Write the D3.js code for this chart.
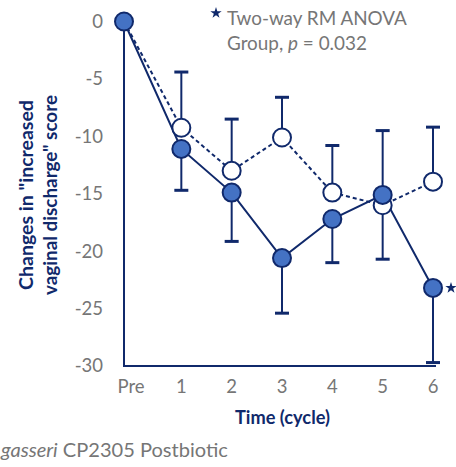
<!DOCTYPE html>
<html><head><meta charset="utf-8">
<script src="https://cdn.jsdelivr.net/npm/d3@7"></script>
<style>body{margin:0;background:#fff;overflow:hidden}svg{display:block}</style>
</head><body>
<svg id="c" width="456" height="467"></svg>
<script>
const categories = ["Pre","1","2","3","4","5","6"];
const filledMean = [0,-11.1,-14.9,-20.6,-17.2,-15.1,-23.2];
const filledSD   = [0,3.6,4.25,4.8,3.8,5.6,6.5];
const openMean   = [0,-9.25,-13.0,-10.1,-14.9,-16.0,-13.95];
const openSD     = [0,4.85,4.5,3.5,4.1,6.5,4.75];
const yTicks = [0,-5,-10,-15,-20,-25,-30];

const navy = "#10296b", blue = "#4472c4", grey = "#767676";
const font = "Lato, 'Open Sans', sans-serif";
const svg = d3.select("#c");
const axisX = 124;
const x = d3.scalePoint().domain(categories).range([131, 433]);
const px = c => c === "Pre" ? axisX : x(c);
const y = d3.scaleLinear().domain([-30, 0]).range([366, 21.5]);

// scale a text element's font so that its length hits a target width
function fit(sel, target) {
  const base = 20;
  sel.attr("font-size", base);
  const w = sel.node().getComputedTextLength();
  sel.attr("font-size", base * target / w);
}

// axes lines
svg.append("line").attr("x1",axisX).attr("x2",axisX).attr("y1",y(0)).attr("y2",y(-30))
  .attr("stroke",navy).attr("stroke-width",2);
svg.append("line").attr("x1",axisX-1).attr("x2",436).attr("y1",y(-30)).attr("y2",y(-30))
  .attr("stroke",navy).attr("stroke-width",2);

// y tick labels
svg.append("g").selectAll("text").data(yTicks).join("text")
  .attr("x",103).attr("y",d=>y(d)).attr("dy","0.35em").attr("text-anchor","end")
  .attr("font-family",font).attr("font-size",18.5).attr("fill",grey).text(d=>d);
// x tick labels
svg.append("g").selectAll("text").data(categories).join("text")
  .attr("x",d=>x(d)).attr("y",393).attr("text-anchor","middle")
  .attr("font-family",font).attr("font-size",18.5).attr("fill",grey).text(d=>d);

// axis titles
const yt1 = svg.append("text").attr("transform","translate(32.5,195) rotate(-90)")
  .attr("text-anchor","middle").attr("font-family",font).attr("font-weight","bold")
  .attr("fill",navy).text('Changes in "increased');
fit(yt1, 190);
const yt2 = svg.append("text").attr("transform","translate(57,195) rotate(-90)")
  .attr("text-anchor","middle").attr("font-family",font).attr("font-weight","bold")
  .attr("fill",navy).text('vaginal discharge" score');
fit(yt2, 200);
const xt = svg.append("text").attr("x",282.5).attr("y",424).attr("text-anchor","middle")
  .attr("font-family",font).attr("font-weight","bold")
  .attr("fill",navy).text("Time (cycle)");
fit(xt, 95);

// error bars
const capW = 14;
const gE = svg.append("g").attr("stroke",navy);
categories.forEach((c,i)=>{
  if (openSD[i] > 0) {
    const yu = y(openMean[i]+openSD[i]);
    gE.append("line").attr("x1",px(c)).attr("x2",px(c)).attr("y1",y(openMean[i])).attr("y2",yu).attr("stroke-width",2);
    gE.append("line").attr("x1",px(c)-capW/2).attr("x2",px(c)+capW/2).attr("y1",yu).attr("y2",yu).attr("stroke-width",3);
  }
  if (filledSD[i] > 0) {
    const yb = y(filledMean[i]-filledSD[i]);
    gE.append("line").attr("x1",px(c)).attr("x2",px(c)).attr("y1",y(filledMean[i])).attr("y2",yb).attr("stroke-width",2);
    gE.append("line").attr("x1",px(c)-capW/2).attr("x2",px(c)+capW/2).attr("y1",yb).attr("y2",yb).attr("stroke-width",3);
  }
});

// lines
const line = d3.line().x(d=>px(d[0])).y(d=>y(d[1]));
svg.append("path").datum(categories.map((c,i)=>[c,openMean[i]])).attr("d",line)
  .attr("fill","none").attr("stroke",navy).attr("stroke-width",2).attr("stroke-dasharray","4,3");
svg.append("path").datum(categories.map((c,i)=>[c,filledMean[i]])).attr("d",line)
  .attr("fill","none").attr("stroke",navy).attr("stroke-width",2);

// points
svg.append("g").selectAll("circle").data(categories.map((c,i)=>[c,openMean[i]]).slice(1)).join("circle")
  .attr("cx",d=>px(d[0])).attr("cy",d=>y(d[1])).attr("r",9)
  .attr("fill","#fff").attr("stroke",navy).attr("stroke-width",2);
svg.append("g").selectAll("circle").data(categories.map((c,i)=>[c,filledMean[i]])).join("circle")
  .attr("cx",d=>px(d[0])).attr("cy",d=>y(d[1])).attr("r",9)
  .attr("fill",blue).attr("stroke",navy).attr("stroke-width",2);

// stars
const star = d3.symbol().type(d3.symbolStar).size(40);
svg.append("path").attr("d",star).attr("transform","translate(216,13)").attr("fill",navy);
svg.append("path").attr("d",star).attr("transform",`translate(451,${y(filledMean[6])})`).attr("fill",navy);

// annotation
const a1 = svg.append("text").attr("x",227).attr("y",25).attr("font-family",font)
  .attr("fill",grey).text("Two-way RM ANOVA");
fit(a1, 180);
const a2 = svg.append("text").attr("x",227).attr("y",50).attr("font-family",font).attr("fill",grey);
a2.append("tspan").text("Group, ");
a2.append("tspan").attr("font-style","italic").text("p");
a2.append("tspan").text(" = 0.032");
fit(a2, 140);

// bottom legend text
const lg = svg.append("text").attr("x",1).attr("y",457)
  .attr("font-family",font).attr("fill",grey);
lg.append("tspan").attr("font-style","italic").text("gasseri");
lg.append("tspan").text(" CP2305 Postbiotic");
fit(lg, 227);
</script>
</body></html>
